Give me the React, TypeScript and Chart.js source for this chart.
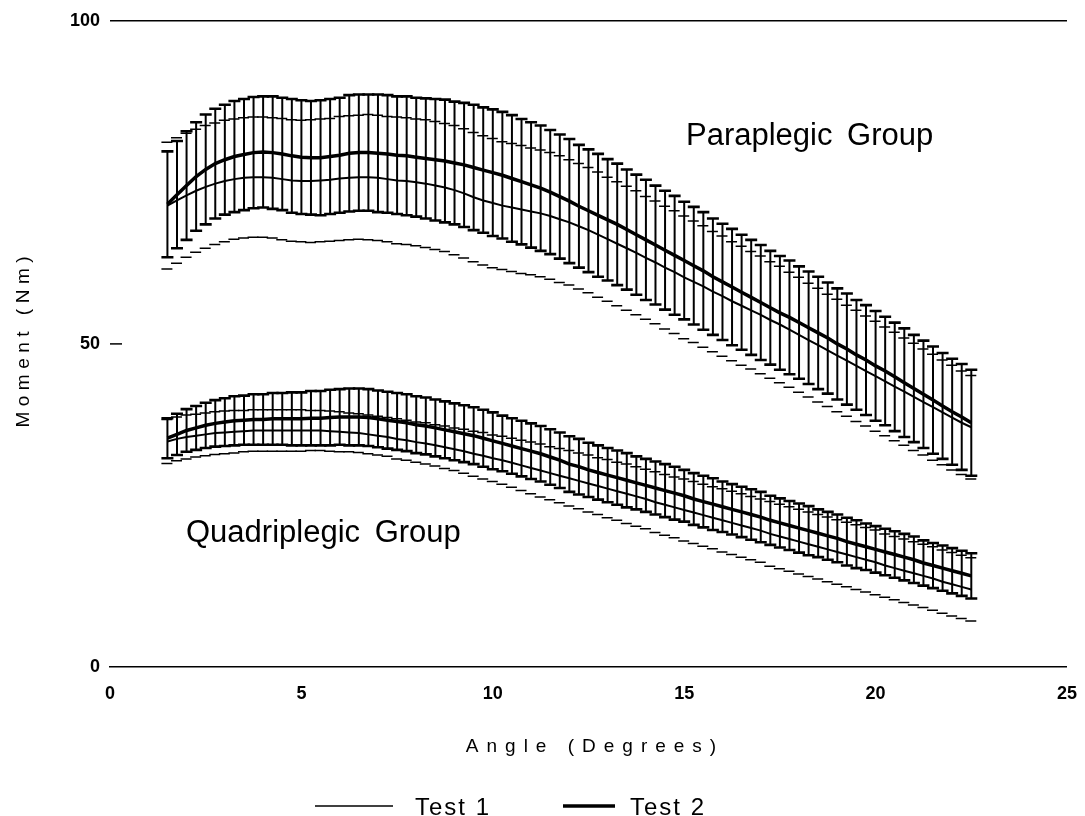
import React, { useEffect, useRef } from "react";
import { Chart, registerables } from "chart.js";
Chart.register(...registerables);

const angles = [
  1.5, 1.75, 2, 2.25, 2.5, 2.75, 3, 3.25, 3.5, 3.75,
  4, 4.25, 4.5, 4.75, 5, 5.25, 5.5, 5.75, 6, 6.25,
  6.5, 6.75, 7, 7.25, 7.5, 7.75, 8, 8.25, 8.5, 8.75,
  9, 9.25, 9.5, 9.75, 10, 10.25, 10.5, 10.75, 11, 11.25,
  11.5, 11.75, 12, 12.25, 12.5, 12.75, 13, 13.25, 13.5, 13.75,
  14, 14.25, 14.5, 14.75, 15, 15.25, 15.5, 15.75, 16, 16.25,
  16.5, 16.75, 17, 17.25, 17.5, 17.75, 18, 18.25, 18.5, 18.75,
  19, 19.25, 19.5, 19.75, 20, 20.25, 20.5, 20.75, 21, 21.25,
  21.5, 21.75, 22, 22.25, 22.5,
];

const paraTest2Mean = [
  71.6, 73.1, 74.5, 75.9, 77.0, 77.9, 78.5, 79.0, 79.3, 79.6,
  79.7, 79.6, 79.4, 79.1, 78.9, 78.8, 78.8, 79.0, 79.2, 79.5,
  79.6, 79.6, 79.5, 79.4, 79.2, 79.1, 78.9, 78.7, 78.5, 78.3,
  78.0, 77.7, 77.3, 76.9, 76.5, 76.1, 75.6, 75.1, 74.6, 74.1,
  73.5, 72.8, 72.1, 71.3, 70.6, 69.9, 69.2, 68.5, 67.7, 66.9,
  66.1, 65.3, 64.5, 63.7, 62.9, 62.1, 61.3, 60.4, 59.6, 58.8,
  58.0, 57.2, 56.4, 55.6, 54.8, 54.1, 53.3, 52.5, 51.7, 50.9,
  50.0, 49.2, 48.3, 47.5, 46.6, 45.8, 44.9, 44.0, 43.1, 42.2,
  41.3, 40.4, 39.5, 38.7, 37.8,
];
const paraTest2Sd = [
  8.2, 8.3, 8.4, 8.4, 8.5, 8.5, 8.5, 8.6, 8.6, 8.6,
  8.6, 8.7, 8.7, 8.8, 8.8, 8.8, 8.9, 8.9, 8.9, 9.0,
  9.0, 9.0, 9.1, 9.1, 9.1, 9.2, 9.2, 9.3, 9.4, 9.5,
  9.5, 9.6, 9.7, 9.7, 9.8, 9.8, 9.8, 9.7, 9.7, 9.7,
  9.6, 9.6, 9.6, 9.5, 9.5, 9.5, 9.4, 9.4, 9.3, 9.3,
  9.3, 9.2, 9.2, 9.2, 9.1, 9.1, 9.1, 9.0, 9.0, 9.0,
  8.9, 8.9, 8.9, 8.8, 8.8, 8.8, 8.7, 8.7, 8.7, 8.6,
  8.6, 8.6, 8.5, 8.5, 8.5, 8.4, 8.4, 8.4, 8.3, 8.3,
  8.3, 8.2, 8.2, 8.2, 8.2,
];
const paraTest1Mean = [
  71.4, 72.2, 73.0, 73.7, 74.3, 74.8, 75.2, 75.5, 75.7, 75.8,
  75.8, 75.7, 75.5, 75.3, 75.2, 75.2, 75.3, 75.4, 75.6, 75.7,
  75.8, 75.8, 75.7, 75.5, 75.3, 75.2, 75.0, 74.8, 74.5, 74.2,
  73.8, 73.3, 72.7, 72.2, 71.8, 71.4, 71.1, 70.8, 70.5, 70.2,
  69.8, 69.3, 68.8, 68.2, 67.6, 66.9, 66.2, 65.5, 64.8, 64.1,
  63.3, 62.6, 61.8, 61.1, 60.3, 59.6, 58.9, 58.1, 57.4, 56.6,
  55.9, 55.2, 54.5, 53.7, 53.0, 52.2, 51.4, 50.6, 49.8, 49.0,
  48.2, 47.4, 46.6, 45.8, 45.0, 44.2, 43.4, 42.6, 41.8, 41.0,
  40.2, 39.4, 38.6, 37.8, 37.1,
];
const paraTest1Sd = [
  9.8, 9.7, 9.6, 9.5, 9.5, 9.4, 9.4, 9.3, 9.3, 9.3,
  9.3, 9.3, 9.4, 9.4, 9.4, 9.5, 9.5, 9.5, 9.6, 9.6,
  9.6, 9.7, 9.7, 9.7, 9.8, 9.8, 9.8, 9.9, 9.9, 9.9,
  10.0, 10.0, 10.0, 10.0, 10.0, 9.9, 9.9, 9.9, 9.8, 9.8,
  9.8, 9.8, 9.7, 9.7, 9.7, 9.7, 9.6, 9.6, 9.6, 9.6,
  9.5, 9.5, 9.5, 9.5, 9.5, 9.4, 9.4, 9.3, 9.3, 9.2,
  9.2, 9.1, 9.1, 9.0, 9.0, 8.9, 8.9, 8.8, 8.8, 8.7,
  8.7, 8.6, 8.6, 8.5, 8.5, 8.4, 8.4, 8.3, 8.3, 8.2,
  8.2, 8.1, 8.1, 8.0, 8.0,
];

const quadTest2Mean = [
  35.4, 36.0, 36.6, 37.0, 37.4, 37.7, 37.9, 38.1, 38.2, 38.3,
  38.3, 38.4, 38.4, 38.4, 38.4, 38.5, 38.5, 38.6, 38.7, 38.7,
  38.7, 38.6, 38.4, 38.2, 38.0, 37.8, 37.5, 37.3, 37.0, 36.7,
  36.4, 36.1, 35.8, 35.4, 35.0, 34.6, 34.2, 33.8, 33.4, 33.0,
  32.5, 32.0, 31.4, 31.0, 30.5, 30.1, 29.7, 29.3, 28.9, 28.5,
  28.1, 27.7, 27.3, 26.9, 26.5, 26.0, 25.6, 25.2, 24.8, 24.4,
  24.0, 23.6, 23.2, 22.7, 22.3, 21.9, 21.5, 21.1, 20.7, 20.3,
  19.9, 19.4, 19.0, 18.6, 18.2, 17.8, 17.4, 17.0, 16.6, 16.1,
  15.7, 15.3, 14.9, 14.5, 14.1,
];
const quadTest2Sd = [
  3.1, 3.2, 3.3, 3.4, 3.5, 3.6, 3.7, 3.8, 3.8, 3.9,
  3.9, 4.0, 4.0, 4.1, 4.1, 4.2, 4.2, 4.3, 4.3, 4.4,
  4.4, 4.4, 4.4, 4.4, 4.4, 4.4, 4.4, 4.4, 4.4, 4.4,
  4.4, 4.4, 4.4, 4.4, 4.4, 4.3, 4.3, 4.3, 4.3, 4.3,
  4.3, 4.3, 4.3, 4.3, 4.2, 4.2, 4.2, 4.2, 4.2, 4.1,
  4.1, 4.1, 4.1, 4.1, 4.0, 4.0, 4.0, 4.0, 3.9, 3.9,
  3.9, 3.9, 3.9, 3.8, 3.8, 3.8, 3.8, 3.8, 3.7, 3.7,
  3.7, 3.7, 3.7, 3.6, 3.6, 3.6, 3.6, 3.6, 3.6, 3.5,
  3.5, 3.5, 3.5, 3.5, 3.5,
];
const quadTest1Mean = [
  34.9, 35.3, 35.6, 35.8, 36.0, 36.2, 36.3, 36.4, 36.5, 36.6,
  36.6, 36.6, 36.6, 36.6, 36.6, 36.6, 36.6, 36.5, 36.4, 36.3,
  36.2, 36.0, 35.8, 35.6, 35.3, 35.1, 34.8, 34.6, 34.3, 34.0,
  33.7, 33.4, 33.0, 32.7, 32.3, 32.0, 31.6, 31.2, 30.8, 30.4,
  30.0, 29.6, 29.2, 28.8, 28.4, 28.0, 27.6, 27.2, 26.8, 26.4,
  26.0, 25.5, 25.1, 24.7, 24.3, 23.9, 23.5, 23.1, 22.7, 22.3,
  21.9, 21.5, 21.1, 20.6, 20.2, 19.8, 19.4, 19.0, 18.6, 18.2,
  17.8, 17.4, 17.0, 16.6, 16.2, 15.7, 15.3, 14.9, 14.5, 14.1,
  13.7, 13.2, 12.8, 12.4, 12.0,
];
const quadTest1Sd = [
  3.4, 3.4, 3.4, 3.3, 3.3, 3.3, 3.3, 3.3, 3.2, 3.2,
  3.2, 3.2, 3.2, 3.2, 3.2, 3.1, 3.1, 3.1, 3.1, 3.0,
  3.0, 3.0, 3.0, 3.0, 3.1, 3.1, 3.1, 3.2, 3.2, 3.3,
  3.3, 3.4, 3.5, 3.6, 3.6, 3.7, 3.8, 3.9, 4.0, 4.1,
  4.1, 4.2, 4.3, 4.3, 4.4, 4.4, 4.5, 4.5, 4.6, 4.6,
  4.6, 4.7, 4.7, 4.7, 4.8, 4.8, 4.8, 4.8, 4.9, 4.9,
  4.9, 4.9, 4.9, 5.0, 5.0, 5.0, 5.0, 5.0, 5.0, 5.0,
  5.0, 5.0, 5.0, 5.0, 5.0, 4.9, 4.9, 4.9, 4.9, 4.9,
  4.9, 4.9, 4.9, 4.9, 4.9,
];

const xTicks = [0, 5, 10, 15, 20, 25];
const yTicks = [0, 50, 100];
const seriesNames = ["Test 1", "Test 2"];
const groupNames = ["Paraplegic Group", "Quadriplegic Group"];
const xTitle = "Angle (Degrees)";
const yTitle = "Moment (Nm)";

const FONT = '"Liberation Sans", Arial, Helvetica, sans-serif';

const pts = (xs: number[], ys: number[]) => xs.map((x, i) => ({ x, y: ys[i] }));

const errorBarsPlugin = {
  id: "errorBars",
  beforeDatasetsDraw(chart: any) {
    const { ctx, scales } = chart;
    const xs = scales.x;
    const ys = scales.y;
    ctx.save();
    ctx.strokeStyle = "#000";
    chart.data.datasets.forEach((ds: any) => {
      if (!ds.sd) return;
      ds.data.forEach((p: any, i: number) => {
        const px = xs.getPixelForValue(p.x);
        const yu = ys.getPixelForValue(p.y + ds.sd[i]);
        const yl = ys.getPixelForValue(p.y - ds.sd[i]);
        if (ds.errStyle === "bars") {
          ctx.lineWidth = 2;
          ctx.beginPath();
          ctx.moveTo(px, yu);
          ctx.lineTo(px, yl);
          ctx.stroke();
          ctx.lineWidth = 2.6;
          ctx.beginPath();
          ctx.moveTo(px - 6, yu);
          ctx.lineTo(px + 6, yu);
          ctx.moveTo(px - 6, yl);
          ctx.lineTo(px + 6, yl);
          ctx.stroke();
        } else {
          ctx.lineWidth = 1.5;
          ctx.beginPath();
          ctx.moveTo(px - 6, yu);
          ctx.lineTo(px + 5, yu);
          ctx.moveTo(px - 6, yl);
          ctx.lineTo(px + 5, yl);
          ctx.stroke();
        }
      });
    });
    ctx.restore();
  },
};

function spacedText(ctx: CanvasRenderingContext2D, text: string, cx: number, y: number, spacing: number) {
  (ctx as any).letterSpacing = spacing + "px";
  const w = ctx.measureText(text).width - spacing;
  ctx.textAlign = "left";
  ctx.fillText(text, cx - w / 2, y);
  (ctx as any).letterSpacing = "0px";
}

const decorPlugin = {
  id: "decor",
  afterDraw(chart: any) {
    const { ctx, chartArea, scales } = chart;
    const ys = scales.y;
    ctx.save();
    ctx.fillStyle = "#000";
    ctx.strokeStyle = "#000";
    // inward tick at 50
    ctx.lineWidth = 1.5;
    ctx.beginPath();
    const y50 = ys.getPixelForValue(yTicks[1]);
    ctx.moveTo(chartArea.left, y50);
    ctx.lineTo(chartArea.left + 12, y50);
    ctx.stroke();

    // axis titles
    ctx.textBaseline = "alphabetic";
    ctx.font = `19px ${FONT}`;
    spacedText(ctx, xTitle, 591, 752, 8);
    ctx.save();
    ctx.translate(29, 342);
    ctx.rotate(-Math.PI / 2);
    spacedText(ctx, yTitle, 0, 0, 5.5);
    ctx.restore();

    // group labels
    ctx.font = `31px ${FONT}`;
    ctx.textAlign = "left";
    (ctx as any).wordSpacing = "6px";
    ctx.fillText(groupNames[0], 686, 145);
    ctx.fillText(groupNames[1], 186, 542);
    (ctx as any).wordSpacing = "0px";

    // legend
    ctx.lineWidth = 1.5;
    ctx.beginPath();
    ctx.moveTo(315, 806);
    ctx.lineTo(393, 806);
    ctx.stroke();
    ctx.lineWidth = 3.5;
    ctx.beginPath();
    ctx.moveTo(563, 806);
    ctx.lineTo(615, 806);
    ctx.stroke();
    ctx.font = `24px ${FONT}`;
    (ctx as any).letterSpacing = "2px";
    ctx.textAlign = "left";
    ctx.fillText(seriesNames[0], 415, 815);
    ctx.fillText(seriesNames[1], 630, 815);
    (ctx as any).letterSpacing = "0px";
    ctx.restore();
  },
};

export default function App() {
  const ref = useRef<HTMLCanvasElement | null>(null);
  useEffect(() => {
    if (!ref.current) return;
    const chart = new Chart(ref.current, {
      type: "line",
      data: {
        datasets: [
          { label: seriesNames[0], data: pts(angles, paraTest1Mean), borderColor: "#000", borderWidth: 2, pointRadius: 0, fill: false, sd: paraTest1Sd, errStyle: "caps" } as any,
          { label: seriesNames[1], data: pts(angles, paraTest2Mean), borderColor: "#000", borderWidth: 3.5, pointRadius: 0, fill: false, sd: paraTest2Sd, errStyle: "bars" } as any,
          { label: seriesNames[0], data: pts(angles, quadTest1Mean), borderColor: "#000", borderWidth: 2, pointRadius: 0, fill: false, sd: quadTest1Sd, errStyle: "caps" } as any,
          { label: seriesNames[1], data: pts(angles, quadTest2Mean), borderColor: "#000", borderWidth: 3.5, pointRadius: 0, fill: false, sd: quadTest2Sd, errStyle: "bars" } as any,
        ],
      },
      options: {
        animation: false,
        responsive: false,
        layout: { padding: { top: 18, right: 6, bottom: 109, left: 0 } },
        plugins: { legend: { display: false }, tooltip: { enabled: false } },
        scales: {
          x: {
            type: "linear",
            min: xTicks[0],
            max: xTicks[xTicks.length - 1],
            afterBuildTicks: (s: any) => { s.ticks = xTicks.map((v) => ({ value: v })); },
            afterFit: (s: any) => { s.height = 40; },
            ticks: { color: "#000", font: { family: FONT, size: 18, weight: "bold" }, padding: 8, maxRotation: 0 },
            grid: { display: false },
            border: { display: true, color: "#000", width: 1.5 },
          },
          y: {
            min: yTicks[0],
            max: yTicks[yTicks.length - 1],
            afterBuildTicks: (s: any) => { s.ticks = yTicks.map((v) => ({ value: v })); },
            afterFit: (s: any) => { s.width = 110; },
            ticks: { color: "#000", font: { family: FONT, size: 18, weight: "bold" }, padding: 10 },
            grid: {
              drawTicks: false,
              lineWidth: 1.5,
              color: (c: any) => (c.tick && c.tick.value === yTicks[2] ? "#000" : "rgba(0,0,0,0)"),
            },
            border: { display: false },
          },
        },
      },
      plugins: [errorBarsPlugin, decorPlugin],
    } as any);
    return () => chart.destroy();
  }, []);
  return (
    <div style={{ position: "absolute", left: 0, top: 0, width: 1085, height: 816, background: "#fff" }}>
      <canvas ref={ref} width={1085} height={816} />
    </div>
  );
}
